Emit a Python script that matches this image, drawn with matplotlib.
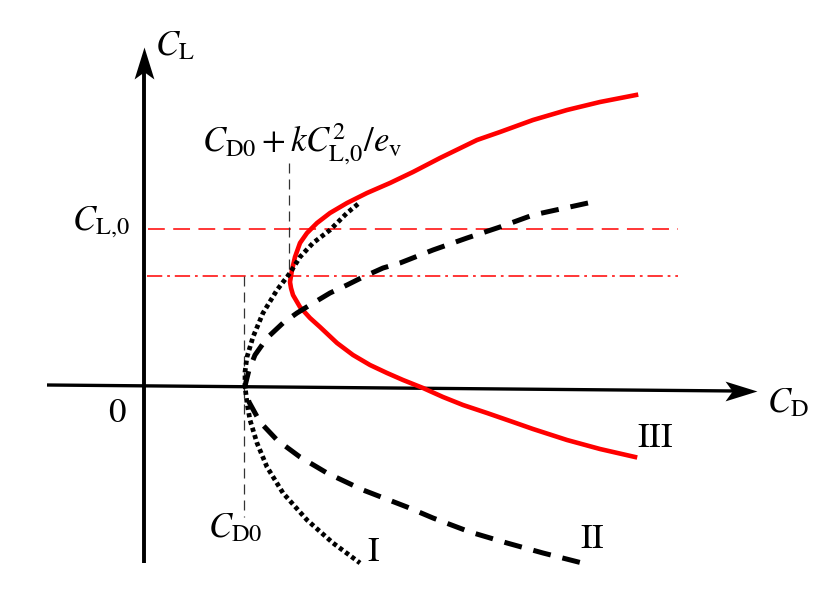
import numpy as np
import matplotlib
matplotlib.use('Agg')
import matplotlib.pyplot as plt
from matplotlib.path import Path

plt.rcParams['mathtext.fontset'] = 'stix'
plt.rcParams['font.family'] = ['STIXGeneral', 'DejaVu Sans']

# drag polar curves (C_D, C_L)
cd_III = [4.91, 4.55, 4.22, 3.88, 3.55, 3.32, 2.95, 2.68, 2.45, 2.22, 2.02, 1.85,
          1.72, 1.62, 1.55, 1.50, 1.47, 1.45, 1.46, 1.48, 1.55, 1.65, 1.75, 1.92,
          2.08, 2.25, 2.42, 2.58, 2.78, 2.98, 3.18, 3.42, 3.68, 3.88, 4.22, 4.55,
          4.90]
cl_III = [2.91, 2.84, 2.76, 2.66, 2.54, 2.46, 2.28, 2.14, 2.03, 1.93, 1.83, 1.73,
          1.63, 1.53, 1.43, 1.29, 1.16, 1.04, 0.98, 0.91, 0.79, 0.68, 0.59, 0.43,
          0.31, 0.21, 0.13, 0.06, -0.02, -0.11, -0.19, -0.27, -0.36, -0.43, -0.54,
          -0.63, -0.71]

cd_I = [2.13, 2.02, 1.85, 1.68, 1.55, 1.45, 1.32, 1.18, 1.08, 1.02, 1.00, 1.00,
        1.02, 1.05, 1.12, 1.22, 1.38, 1.62, 1.88, 2.15]
cl_I = [1.82, 1.73, 1.56, 1.43, 1.29, 1.13, 0.96, 0.73, 0.49, 0.29, 0.14, 0.00,
        -0.17, -0.34, -0.57, -0.81, -1.07, -1.34, -1.57, -1.77]

cd_II = [4.43, 3.88, 3.55, 3.22, 2.88, 2.55, 2.38, 2.18, 2.02, 1.85, 1.65, 1.52,
         1.38, 1.22, 1.10, 1.04, 1.00, 1.04, 1.15, 1.32, 1.55, 1.82, 2.18, 2.62,
         2.88, 3.25, 3.62, 3.98, 4.45]
cl_II = [1.83, 1.71, 1.59, 1.48, 1.36, 1.23, 1.18, 1.09, 1.01, 0.93, 0.81, 0.73,
         0.63, 0.48, 0.31, 0.16, 0.00, -0.16, -0.36, -0.54, -0.71, -0.87, -1.04,
         -1.21, -1.32, -1.46, -1.57, -1.67, -1.79]

# reference levels
CD0 = 0.99
CD_min = 1.44
CL0 = 1.57
CL_min = 1.10
x_line_end = 5.33

# stealth style arrow heads
head_right = Path([(1, 0), (-1, 0.62), (-0.55, 0), (-1, -0.62), (1, 0)],
                  [Path.MOVETO, Path.LINETO, Path.LINETO, Path.LINETO, Path.CLOSEPOLY])
head_up = Path([(0, 1), (0.62, -1), (0, -0.55), (-0.62, -1), (0, 1)],
               [Path.MOVETO, Path.LINETO, Path.LINETO, Path.LINETO, Path.CLOSEPOLY])

fig = plt.figure(figsize=(8.37, 5.89), dpi=100)
ax = fig.add_axes([0, 0, 1, 1])
ax.set_xlim(-1.45, 6.92)
ax.set_ylim(-2.03, 3.86)
ax.axis('off')

# axes
ax.plot([-0.01, -0.01], [-1.77, 3.15], color='k', lw=2.8, solid_capstyle='butt')
ax.plot([-0.98, 5.92], [0.01, -0.05], color='k', lw=2.4, solid_capstyle='butt')
ax.plot([-0.01], [3.23], marker=head_up, markersize=23, color='k', markeredgewidth=0)
ax.plot([5.96], [-0.05], marker=head_right, markersize=23, color='k', markeredgewidth=0)

# guide lines
ax.plot([0.03, x_line_end], [CL0, CL0], color='red', lw=1.1, linestyle=(0, (11, 5.5)))
ax.plot([0.02, x_line_end], [CL_min, CL_min], color='red', lw=1.1,
        linestyle=(0, (10, 3.2, 1.8, 3.2)))
ax.plot([CD_min, CD_min], [2.23, CL_min], color='#333333', lw=0.9, linestyle=(0, (8, 4.8)))
ax.plot([CD0, CD0], [CL_min, -1.31], color='#333333', lw=0.9, linestyle=(0, (8, 4.8)))

# polar curves
ax.plot(cd_III, cl_III, color='#ff0000', lw=3.3, solid_joinstyle='round')
ax.plot(cd_II, cl_II, color='k', lw=3.6, linestyle=(0, (3.6, 2.4)))
ax.plot(cd_I, cl_I, color='k', lw=3.4, linestyle=(0, (0.9, 0.7)))

fs = 25
ax.text(0.10, 3.31, r'$C_{\mathrm{L}}$', fontsize=fs, ha='left', va='baseline')
ax.text(-0.73, 1.56, r'$C_{\mathrm{L{,}0}}$', fontsize=fs, ha='left', va='baseline')
ax.text(0.57, 2.34, r'$C_{\mathrm{D0}}+kC_{\mathrm{L{,}0}}^{2}/e_{\mathrm{v}}$', fontsize=fs,
        ha='left', va='baseline')
ax.text(-0.28, -0.28, r'$\mathrm{0}$', fontsize=fs, ha='center', va='center')
ax.text(6.22, -0.26, r'$C_{\mathrm{D}}$', fontsize=fs, ha='left', va='baseline')
ax.text(0.63, -1.51, r'$C_{\mathrm{D0}}$', fontsize=fs, ha='left', va='baseline')
ax.text(2.28, -1.67, r'$\mathrm{I}$', fontsize=fs, ha='center', va='center')
ax.text(4.47, -1.54, r'$\mathrm{II}$', fontsize=fs, ha='center', va='center')
ax.text(5.10, -0.53, r'$\mathrm{III}$', fontsize=fs, ha='center', va='center')

plt.savefig('out.png', dpi=100)
